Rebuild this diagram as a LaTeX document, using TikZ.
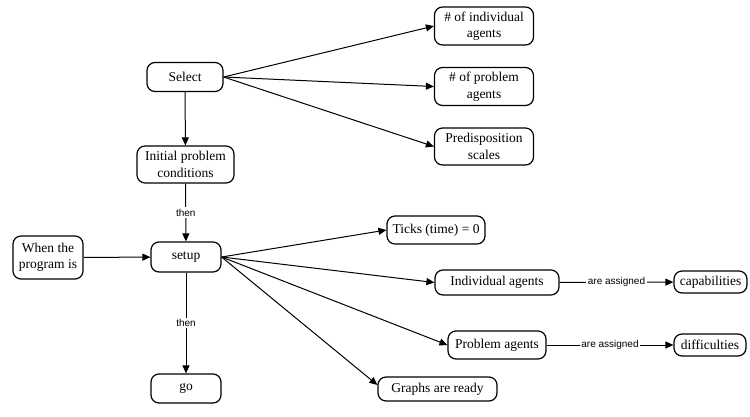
\documentclass[tikz,border=0pt]{standalone}
\usepackage{fontspec}
\setmainfont{Liberation Serif}
\newfontfamily\boxfont{Liberation Serif}
\newfontfamily\lblfont{Liberation Sans}
\usetikzlibrary{arrows.meta}
\begin{document}
\begin{tikzpicture}[x={(1pt,0pt)},y={(0pt,-1pt)},
 box/.style={draw,rounded corners=8pt,line width=1.2pt,inner sep=0pt,align=center,
   font=\boxfont\fontsize{13.5}{16.5}\selectfont},
 conn/.style={line width=1pt,-{Triangle[length=8pt,width=7pt]}},
 lbl/.style={fill=white,inner sep=1.5pt,font=\lblfont\fontsize{10}{12}\selectfont}]
\useasboundingbox (0,0) rectangle (750,416);

\node[box,minimum width=76pt,minimum height=29pt] (sel) at (185,77) {Select};
\node[box,minimum width=97pt,minimum height=37pt] (ipc) at (185.5,164.5) {Initial problem\\conditions};
\node[box,minimum width=99pt,minimum height=38pt] (nind) at (484,26) {\# of individual\\agents};
\node[box,minimum width=99pt,minimum height=38pt] (nprob) at (484,86.5) {\# of problem\\agents};
\node[box,minimum width=99pt,minimum height=37pt] (pred) at (484,146.5) {Predisposition\\scales};
\node[box,minimum width=70pt,minimum height=43pt] (when) at (48,257.5) {When the\\program is};
\node[box,minimum width=70pt,minimum height=30pt] (set) at (186,257) {setup};
\node[box,minimum width=70pt,minimum height=29pt] (go) at (186,388.5) {go};
\node[box,minimum width=98pt,minimum height=28pt] (tick) at (436,230) {Ticks (time) = 0};
\node[box,minimum width=124pt,minimum height=25pt] (iag) at (497,282.5) {Individual agents};
\node[box,minimum width=73pt,minimum height=22pt] (cap) at (710.5,282) {capabilities};
\node[box,minimum width=98pt,minimum height=28pt] (pag) at (497,345) {Problem agents};
\node[box,minimum width=72pt,minimum height=22pt] (dif) at (710,345) {difficulties};
\node[box,minimum width=119pt,minimum height=24pt] (gra) at (437.5,389) {Graphs are ready};

\draw[conn] (sel.east) -- (nind.west);
\draw[conn] (sel.east) -- (nprob.west);
\draw[conn] (sel.east) -- (pred.west);
\draw[conn] (sel) -- (ipc);
\draw[conn] (ipc) -- node[lbl]{then} (set);
\draw[conn] (when) -- (set);
\draw[conn] (set) -- node[lbl]{then} (go);
\draw[conn] (set.east) -- (tick.west);
\draw[conn] (set.east) -- (iag.west);
\draw[conn] (set.east) -- (pag.west);
\draw[conn] (set.east) -- ([yshift=4pt]gra.west);
\draw[conn] (iag) -- node[lbl]{are assigned} (cap);
\draw[conn] (pag) -- node[lbl]{are assigned} (dif);
\end{tikzpicture}
\end{document}
